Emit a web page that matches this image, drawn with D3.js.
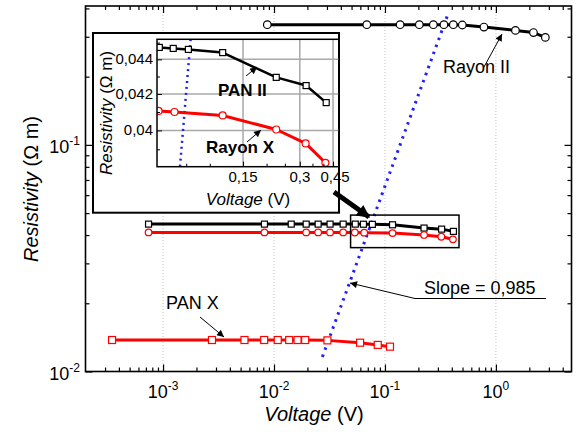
<!DOCTYPE html>
<html><head><meta charset="utf-8">
<script src="https://cdn.jsdelivr.net/npm/d3@7"></script>
<style>
html,body{margin:0;padding:0;background:#fff;}
svg{display:block;font-family:"Liberation Sans",Arial,sans-serif;}
</style></head><body>
<svg id="chart" width="581" height="432"></svg>
<script>
// ---- data: voltage (V) and resistivity (ohm m) ----
const panII_V = [7.4e-4, 0.0082, 0.0143, 0.0195, 0.025, 0.032, 0.042, 0.054, 0.064, 0.077, 0.117, 0.225, 0.324, 0.414];
const panII_R = [0.0447, 0.0447, 0.0447, 0.0447, 0.0447, 0.0447, 0.0447, 0.04471, 0.04465, 0.04459, 0.0444, 0.04295, 0.04248, 0.04152];

const rayonX_V = [7.4e-4, 0.0082, 0.0195, 0.025, 0.032, 0.042, 0.0535, 0.065, 0.117, 0.225, 0.322, 0.41];
const rayonX_R = [0.0411, 0.0411, 0.0411, 0.0411, 0.0411, 0.0411, 0.04106, 0.0410, 0.04081, 0.04005, 0.03931, 0.0383];

const rayonII_V = [0.0087, 0.0686, 0.137, 0.204, 0.273, 0.340, 0.413, 0.498, 0.780, 1.50, 2.18, 2.79];
const rayonII_R = [0.339, 0.339, 0.339, 0.339, 0.339, 0.339, 0.339, 0.338, 0.331, 0.320, 0.313, 0.298];

const panX_V = [3.47e-4, 2.76e-3, 5.42e-3, 8.16e-3, 0.0108, 0.0137, 0.0163, 0.0191, 0.0303, 0.0597, 0.0861, 0.111];
const panX_R = [0.01377, 0.01377, 0.01377, 0.01377, 0.01377, 0.01377, 0.01377, 0.01377, 0.01372, 0.0134, 0.0131, 0.01287];

// linear fit in log-log space (slope label below)
const fit_V = [0.0273, 0.365];
const fit_R = [0.0116, 0.371];
const insetFit_V = [0.0695, 0.0791];
const insetFit_R = [0.0381, 0.0452];

// region enlarged in the inset
const box_V = [0.049, 0.465];
const box_R = [0.0352, 0.049];

// tick values and labels
const xMajor = [1e-3, 1e-2, 1e-1, 1];
const xExp = ["-3", "-2", "-1", "0"];
const yMajor = [0.01, 0.1];
const yExp = ["-2", "-1"];
const insetYTicks = [0.04, 0.042, 0.044];
const insetYLabels = ["0,04", "0,042", "0,044"];
const insetYMinor = [0.039, 0.041, 0.043, 0.045];
const insetXTicks = [0.15, 0.3, 0.45];
const insetXLabels = ["0,15", "0,3", "0,45"];
const insetXMinor = [0.075, 0.1, 0.2, 0.25, 0.35, 0.4];

const svg = d3.select("#chart");
svg.append("rect").attr("width", 581).attr("height", 432).attr("fill", "#fff");

const defs = svg.append("defs");
defs.append("marker").attr("id", "arr").attr("viewBox", "0 0 10 10")
  .attr("refX", 10).attr("refY", 5).attr("markerWidth", 9).attr("markerHeight", 7)
  .attr("markerUnits", "userSpaceOnUse").attr("orient", "auto")
  .append("path").attr("d", "M0,0L10,5L0,10z").attr("fill", "#000");
defs.append("marker").attr("id", "bigarr").attr("viewBox", "0 0 10 10")
  .attr("refX", 9).attr("refY", 5).attr("markerWidth", 15).attr("markerHeight", 13)
  .attr("markerUnits", "userSpaceOnUse").attr("orient", "auto")
  .append("path").attr("d", "M0,0L10,5L0,10z").attr("fill", "#000");

// ---- main scales ----
const L = 85.5, R = 571.5, T = 6, B = 371.5;
const x = d3.scaleLog().domain([2e-4, 4.8]).range([L, R]);
const y = d3.scaleLog().domain([0.01, 0.41]).range([B, T]);

defs.append("clipPath").attr("id", "mainClip").append("rect")
  .attr("x", L).attr("y", T).attr("width", R - L).attr("height", B - T);

// dotted grid at decades
svg.append("g").selectAll("line").data(xMajor).join("line")
  .attr("x1", d => x(d)).attr("x2", d => x(d)).attr("y1", T).attr("y2", B)
  .attr("stroke", "#c4c4c4").attr("stroke-width", 1).attr("stroke-dasharray", "1,2");

function minorTicks(lo, hi) {
  const out = [];
  for (let e = Math.floor(Math.log10(lo)); e <= Math.ceil(Math.log10(hi)); e++) {
    for (let k = 2; k <= 9; k++) {
      const v = k * Math.pow(10, e);
      if (v > lo && v < hi) out.push(v);
    }
  }
  return out;
}

function drawSeries(g, xs, ys, V, Rv, color, shape, size, lw) {
  const pts = V.map((v, i) => [xs(v), ys(Rv[i])]);
  g.append("path").attr("d", d3.line()(pts)).attr("fill", "none")
    .attr("stroke", color).attr("stroke-width", lw).attr("stroke-linejoin", "round");
  if (shape === "square") {
    g.append("g").selectAll("rect").data(pts).join("rect")
      .attr("x", d => d[0] - size / 2).attr("y", d => d[1] - size / 2)
      .attr("width", size).attr("height", size)
      .attr("fill", "#fff").attr("stroke", color).attr("stroke-width", 1.2);
  } else {
    g.append("g").selectAll("circle").data(pts).join("circle")
      .attr("cx", d => d[0]).attr("cy", d => d[1]).attr("r", size)
      .attr("fill", "#fff").attr("stroke", color).attr("stroke-width", 1.2);
  }
}

const main = svg.append("g").attr("clip-path", "url(#mainClip)");
// fit line
main.append("path")
  .attr("d", d3.line()(fit_V.map((v, i) => [x(v), y(fit_R[i])])))
  .attr("stroke", "#1e1eff").attr("stroke-width", 3).attr("stroke-dasharray", "2.5,5").attr("fill", "none");

drawSeries(main, x, y, rayonII_V, rayonII_R, "#000", "circle", 3.8, 3);
drawSeries(main, x, y, panII_V, panII_R, "#000", "square", 6, 3);
drawSeries(main, x, y, rayonX_V, rayonX_R, "#ff0000", "circle", 3.3, 3);
drawSeries(main, x, y, panX_V, panX_R, "#ff0000", "square", 7, 3);

// ---- main axes (inward ticks on all sides) ----
const xMinor = minorTicks(2e-4, 4.8);
const yMinor = minorTicks(0.01, 0.41);
function tickAxis(axisFn, scale, vals, len, tr) {
  const g = svg.append("g").attr("transform", tr)
    .call(axisFn(scale).tickValues(vals).tickSizeInner(len).tickSizeOuter(0).tickFormat(""));
  g.select(".domain").remove();
  g.selectAll(".tick line").attr("stroke", "#000").attr("stroke-width", 1.2);
  return g;
}
tickAxis(d3.axisBottom, x, xMajor, -7, `translate(0,${B})`);
tickAxis(d3.axisBottom, x, xMinor, -4, `translate(0,${B})`);
tickAxis(d3.axisTop, x, xMajor, -7, `translate(0,${T})`);
tickAxis(d3.axisTop, x, xMinor, -4, `translate(0,${T})`);
tickAxis(d3.axisLeft, y, yMajor, -7, `translate(${L},0)`);
tickAxis(d3.axisLeft, y, yMinor, -4, `translate(${L},0)`);
tickAxis(d3.axisRight, y, yMajor, -7, `translate(${R},0)`);
tickAxis(d3.axisRight, y, yMinor, -4, `translate(${R},0)`);

svg.append("rect").attr("x", L).attr("y", T).attr("width", R - L).attr("height", B - T)
  .attr("fill", "none").attr("stroke", "#000").attr("stroke-width", 1.6);

// tick labels with superscripts
xMajor.forEach((v, i) => {
  const t = svg.append("text").attr("x", x(v)).attr("y", 398).attr("text-anchor", "middle")
    .attr("font-size", 18).attr("fill", "#000");
  t.append("tspan").text("10");
  t.append("tspan").attr("dy", -8).attr("font-size", 12).text(xExp[i]);
});
yMajor.forEach((v, i) => {
  const t = svg.append("text").attr("x", 80).attr("y", y(v) + 8).attr("text-anchor", "end")
    .attr("font-size", 18).attr("fill", "#000");
  t.append("tspan").text("10");
  t.append("tspan").attr("dy", -8).attr("font-size", 12).text(yExp[i]);
});

// axis titles
const xt = svg.append("text").attr("x", 314).attr("y", 421).attr("text-anchor", "middle")
  .attr("font-size", 20).attr("fill", "#000");
xt.append("tspan").attr("font-style", "italic").text("Voltage");
xt.append("tspan").text(" (V)");
const yt = svg.append("text").attr("transform", "translate(38,189) rotate(-90)")
  .attr("text-anchor", "middle").attr("font-size", 20).attr("fill", "#000");
yt.append("tspan").attr("font-style", "italic").text("Resistivity");
yt.append("tspan").text(" (\u03A9 m)");

// enlarged-region box
svg.append("rect").attr("x", x(box_V[0])).attr("y", y(box_R[1]))
  .attr("width", x(box_V[1]) - x(box_V[0])).attr("height", y(box_R[0]) - y(box_R[1]))
  .attr("fill", "none").attr("stroke", "#000").attr("stroke-width", 1.5);

// annotations
function label(xp, yp, txt, size, weight) {
  return svg.append("text").attr("x", xp).attr("y", yp).attr("font-size", size)
    .attr("font-weight", weight || "normal").attr("fill", "#000").text(txt);
}
function arrow(x1, y1, x2, y2) {
  svg.append("line").attr("x1", x1).attr("y1", y1).attr("x2", x2).attr("y2", y2)
    .attr("stroke", "#000").attr("stroke-width", 1).attr("marker-end", "url(#arr)");
}
label(443, 73, "Rayon II", 18);
arrow(484, 67, 502, 34);
label(424, 294, "Slope = 0,985", 18);
svg.append("line").attr("x1", 415).attr("y1", 298.5).attr("x2", 546).attr("y2", 298.5)
  .attr("stroke", "#000").attr("stroke-width", 1);
arrow(415, 298.5, 350, 283);
label(166, 309, "PAN X", 18);
arrow(200, 317, 224, 337);

// ---- inset ----
const iL = 157, iR = 339, iT = 39.3, iB = 166.7;
svg.append("rect").attr("x", 93).attr("y", 33).attr("width", 246).attr("height", 179.7)
  .attr("fill", "#fff").attr("stroke", "#000").attr("stroke-width", 2);

const ix = d3.scaleLog().domain([0.0525, 0.484]).range([iL, iR]);
const iy = d3.scaleLog().domain([0.0381, 0.0452]).range([iB, iT]);
defs.append("clipPath").attr("id", "insetClip").append("rect")
  .attr("x", iL).attr("y", iT).attr("width", iR - iL).attr("height", iB - iT);

const ig = svg.append("g");
ig.append("g").selectAll("line").data(insetYTicks).join("line")
  .attr("x1", iL).attr("x2", iR).attr("y1", d => iy(d)).attr("y2", d => iy(d))
  .attr("stroke", "#a8a8a8").attr("stroke-width", 1.5);
ig.append("g").selectAll("line").data(insetXTicks).join("line")
  .attr("y1", iT).attr("y2", iB).attr("x1", d => ix(d)).attr("x2", d => ix(d))
  .attr("stroke", "#a8a8a8").attr("stroke-width", 1.5);

const ic = svg.append("g").attr("clip-path", "url(#insetClip)");
ic.append("path")
  .attr("d", d3.line()(insetFit_V.map((v, i) => [ix(v), iy(insetFit_R[i])])))
  .attr("stroke", "#1e1eff").attr("stroke-width", 2.5).attr("stroke-dasharray", "2,4").attr("fill", "none");
const inDom = (V, Rv) => {
  const idx = V.map((v, i) => i).filter(i => V[i] >= 0.0525);
  return [idx.map(i => V[i]), idx.map(i => Rv[i])];
};
const pI = inDom(panII_V, panII_R);
const rI = inDom(rayonX_V, rayonX_R);
drawSeries(ic, ix, iy, pI[0], pI[1], "#000", "square", 6, 2.5);
drawSeries(ic, ix, iy, rI[0], rI[1], "#ff0000", "circle", 3.5, 3);

// inset ticks
const iAx = (fn, sc, vals, len, tr) => {
  const g = svg.append("g").attr("transform", tr)
    .call(fn(sc).tickValues(vals).tickSizeInner(len).tickSizeOuter(0).tickFormat(""));
  g.select(".domain").remove();
  g.selectAll(".tick line").attr("stroke", "#000").attr("stroke-width", 1);
};
iAx(d3.axisLeft, iy, insetYTicks, -5, `translate(${iL},0)`);
iAx(d3.axisLeft, iy, insetYMinor, -3, `translate(${iL},0)`);
iAx(d3.axisBottom, ix, insetXTicks, -5, `translate(0,${iB})`);
iAx(d3.axisBottom, ix, insetXMinor, -3, `translate(0,${iB})`);

svg.append("rect").attr("x", iL).attr("y", iT).attr("width", iR - iL).attr("height", iB - iT)
  .attr("fill", "none").attr("stroke", "#000").attr("stroke-width", 1.5);

insetYTicks.forEach((v, i) => {
  svg.append("text").attr("x", 153).attr("y", iy(v) + 5).attr("text-anchor", "end")
    .attr("font-size", 15).attr("fill", "#000").text(insetYLabels[i]);
});
insetXTicks.forEach((v, i) => {
  svg.append("text").attr("x", ix(v) + (i === 2 ? 2 : 0)).attr("y", 182).attr("text-anchor", "middle")
    .attr("font-size", 15).attr("fill", "#000").text(insetXLabels[i]);
});
const ixt = svg.append("text").attr("x", 248).attr("y", 205).attr("text-anchor", "middle")
  .attr("font-size", 17).attr("fill", "#000");
ixt.append("tspan").attr("font-style", "italic").text("Voltage");
ixt.append("tspan").text(" (V)");
const iyt = svg.append("text").attr("transform", "translate(112,113) rotate(-90)")
  .attr("text-anchor", "middle").attr("font-size", 17).attr("fill", "#000");
iyt.append("tspan").attr("font-style", "italic").text("Resistivity");
iyt.append("tspan").text(" (\u03A9 m)");

label(218, 96, "PAN II", 17, "bold");
arrow(246, 76, 257, 67);
label(206, 153, "Rayon X", 17, "bold");
arrow(247, 142, 261, 130);

// large pointer from inset to the boxed region
svg.append("line").attr("x1", 334).attr("y1", 192).attr("x2", 369).attr("y2", 217)
  .attr("stroke", "#000").attr("stroke-width", 5).attr("marker-end", "url(#bigarr)");
</script></body></html>
